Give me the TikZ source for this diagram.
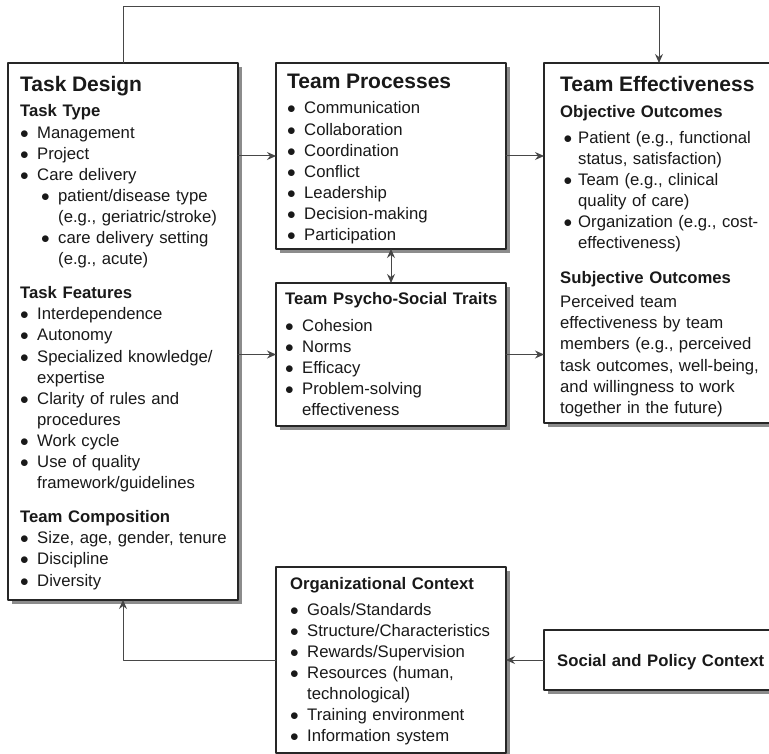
\documentclass[tikz,border=0pt]{standalone}
\usepackage{fontspec}
\setmainfont{Liberation Sans}
\usetikzlibrary{arrows.meta}
\usetikzlibrary{shadows}

\newcommand{\bl}{\makebox[17pt][l]{$\bullet$}}
\newcommand{\ind}{\hspace*{17pt}}
\newcommand{\sbl}{\hspace*{21pt}\makebox[17pt][l]{$\bullet$}}
\newcommand{\sind}{\hspace*{38pt}}
\newcommand{\blr}{\hspace*{3.5pt}\makebox[14.5pt][l]{$\bullet$}}
\newcommand{\indr}{\hspace*{18pt}}
\newcommand{\ttl}[1]{{\fontsize{21}{24}\selectfont\bfseries #1}}

\tikzset{
  box/.style={draw=black!85,line width=1.1pt,fill=white,outer sep=0pt,inner sep=0pt,
    anchor=north west,minimum width=230pt,
    drop shadow={shadow xshift=4pt,shadow yshift=-4pt,fill=black!45,opacity=1}},
  txt/.style={anchor=base west,inner sep=0pt,text width=260pt,align=left,
    font=\fontsize{16.7}{21.1}\selectfont,text=black!90},
  conn/.style={draw=black!72,line width=1pt}
}

\begin{document}
\begin{tikzpicture}[x=1pt,y=-1pt,line cap=round,line join=round,
  >={Stealth[length=9pt,width=8pt,inset=3pt]}]
\useasboundingbox (0,0) rectangle (769,754);
\clip (0,0) rectangle (769,754);

\node[box,minimum height=537pt] (td) at (8,63) {};
\node[box,minimum height=186pt] (tp) at (276,63) {};
\node[box,minimum height=143pt] (ps) at (276,283) {};
\node[box,minimum height=360pt] (te) at (544,63) {};
\node[box,minimum height=186pt] (oc) at (276,567) {};
\node[box,minimum height=60pt] (sp) at (544,630) {};

\node[txt] (tdtxt) at (20,91.5) {\ttl{Task Design}\\[4.4pt]
  \textbf{Task Type}\\
  \bl Management\\
  \bl Project\\
  \bl Care delivery\\
  \sbl patient/disease type\\
  \sind(e.g., geriatric/stroke)\\
  \sbl care delivery setting\\
  \sind(e.g., acute)\\[13pt]
  \textbf{Task Features}\\
  \bl Interdependence\\
  \bl Autonomy\\
  \bl Specialized knowledge/\\
  \ind expertise\\
  \bl Clarity of rules and\\
  \ind procedures\\
  \bl Work cycle\\
  \bl Use of quality\\
  \ind framework/guidelines\\[13pt]
  \textbf{Team Composition}\\
  \bl Size, age, gender, tenure\\
  \bl Discipline\\
  \bl Diversity};

\node[txt] (tptxt) at (287,88.5) {\ttl{Team Processes}\\[4.4pt]
  \bl Communication\\
  \bl Collaboration\\
  \bl Coordination\\
  \bl Conflict\\
  \bl Leadership\\
  \bl Decision-making\\
  \bl Participation};

\node[txt] (pstxt) at (285,305) {\textbf{Team Psycho-Social Traits}\\[5pt]
  \bl Cohesion\\
  \bl Norms\\
  \bl Efficacy\\
  \bl Problem-solving\\
  \ind effectiveness};

\node[txt] (tetxt) at (560,91.5) {\ttl{Team Effectiveness}\\[5.4pt]
  \textbf{Objective Outcomes}\\[4pt]
  \blr Patient (e.g., functional\\
  \indr status, satisfaction)\\
  \blr Team (e.g., clinical\\
  \indr quality of care)\\
  \blr Organization (e.g., cost-\\
  \indr effectiveness)\\[14pt]
  \textbf{Subjective Outcomes}\\[3pt]
  Perceived team\\
  effectiveness by team\\
  members (e.g., perceived\\
  task outcomes, well-being,\\
  and willingness to work\\
  together in the future)};

\node[txt] (octxt) at (290,589) {\textbf{Organizational Context}\\[5pt]
  \bl Goals/Standards\\
  \bl Structure/Characteristics\\
  \bl Rewards/Supervision\\
  \bl Resources (human,\\
  \ind technological)\\
  \bl Training environment\\
  \bl Information system};

\node[txt] (sptxt) at (557,666) {\textbf{Social and Policy Context}};

\coordinate (top) at (0,7);
\draw[conn,->] (td.north) -- (td.north |- top) -| (te.north);
\draw[conn,->] (td.east |- tp.west) -- (tp.west);
\draw[conn,->] (tp.east) -- (tp.east -| te.west);
\draw[conn,->] (td.east |- ps.west) -- (ps.west);
\draw[conn,->] (ps.east) -- (ps.east -| te.west);
\draw[conn,<->] (tp.south) -- (ps.north);
\draw[conn,->] (oc.west) -| (td.south);
\draw[conn,->] (sp.west) -- (oc.east);
\end{tikzpicture}
\end{document}
